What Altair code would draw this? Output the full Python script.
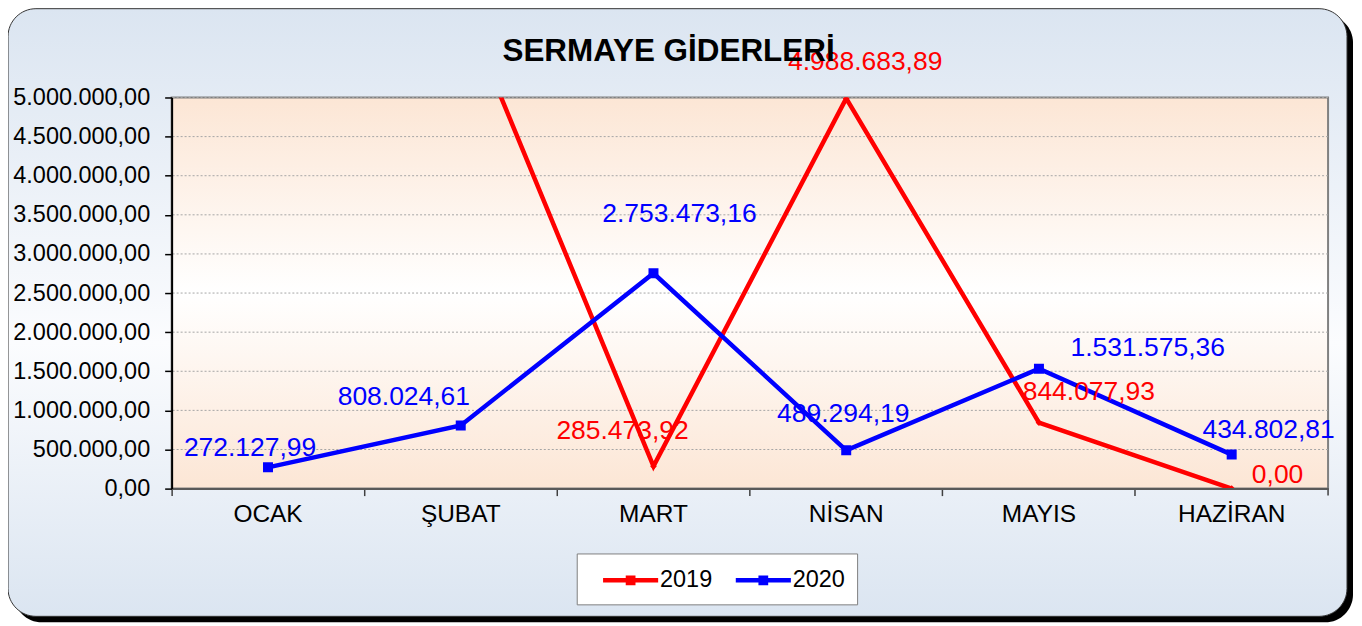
import altair as alt
import pandas as pd

# ---- data ----
months = ["OCAK", "ŞUBAT", "MART", "NİSAN", "MAYIS", "HAZİRAN"]
years = ["2019", "2020"]
values_2019 = [6000000.00, 6250000.00, 285473.92, 4988683.89, 844077.93, 0.00]
values_2020 = [272127.99, 808024.61, 2753473.16, 489294.19, 1531575.36, 434802.81]
y_ticks = [0, 500000, 1000000, 1500000, 2000000, 2500000, 3000000, 3500000, 4000000, 4500000, 5000000]
title_text = "SERMAYE GİDERLERİ"

rows = []
for m, a, b in zip(months, values_2019, values_2020):
    rows.append({"ay": m, "yil": "2019", "deger": a})
    rows.append({"ay": m, "yil": "2020", "deger": b})
df = pd.DataFrame(rows)
tick_df = pd.DataFrame({"deger": y_ticks})
one = pd.DataFrame({"k": [0]})

# ---- style ----
W, H = 1159, 392
FONT = "Liberation Sans"
RED, BLUE = "#ff0000", "#0000ff"
series_color = {"2019": RED, "2020": BLUE}
label_offsets = {
    ("2020", "OCAK"): (-18, -19),
    ("2020", "ŞUBAT"): (-57, -28),
    ("2020", "MART"): (26, -59),
    ("2020", "NİSAN"): (-3, -36),
    ("2020", "MAYIS"): (109, -21),
    ("2020", "HAZİRAN"): (37, -25),
    ("2019", "MART"): (-31, -35),
    ("2019", "NİSAN"): (19, -36),
    ("2019", "MAYIS"): (50, -31),
    ("2019", "HAZİRAN"): (46, -14),
}

x_enc = alt.X(
    "ay:N", sort=months, bandPosition=0.5,
    scale=alt.Scale(type="band", paddingInner=0, paddingOuter=0),
    axis=alt.Axis(title=None, bandPosition=0, labelAngle=0, labelFont=FONT, labelFontSize=24.5,
                  labelColor="black", tickColor="#404040", tickSize=7, tickWidth=1.5,
                  domainColor="#595959", domainWidth=2, labelPadding=7, grid=False, zindex=1),
)
y_enc = alt.Y(
    "deger:Q",
    scale=alt.Scale(domain=[0, 5000000], nice=False, zero=True),
    axis=alt.Axis(title=None, values=y_ticks, format=",.2f", labelFont=FONT, labelFontSize=23.5,
                  labelColor="black", tickColor="black", tickSize=7, tickWidth=1.5,
                  domainColor="black", domainWidth=2, labelPadding=15, grid=False, zindex=1),
)

shadow = alt.Chart(one).mark_rect(fill="black", cornerRadius=28).encode(
    x=alt.value(-158), x2=alt.value(1184), y=alt.value(-83), y2=alt.value(526))
box = alt.Chart(one).mark_rect(
    cornerRadius=28, stroke="#333333", strokeWidth=1,
    fill=alt.Gradient(gradient="linear", x1=0, x2=0, y1=0, y2=1,
                      stops=[alt.GradientStop(offset=0, color="#dbe5f1"),
                             alt.GradientStop(offset=0.55, color="#fbfcfe"),
                             alt.GradientStop(offset=1, color="#dbe5f1")]),
).encode(x=alt.value(-164), x2=alt.value(1178), y=alt.value(-89), y2=alt.value(520))
plot_bg = alt.Chart(one).mark_rect(
    stroke="#808080", strokeWidth=2,
    fill=alt.Gradient(gradient="linear", x1=0, x2=0, y1=0, y2=1,
                      stops=[alt.GradientStop(offset=0, color="#fce6d5"),
                             alt.GradientStop(offset=0.5, color="#ffffff"),
                             alt.GradientStop(offset=1, color="#fce6d5")]),
).encode(x=alt.value(0), x2=alt.value(W), y=alt.value(0), y2=alt.value(H))

grid = alt.Chart(tick_df).mark_rule(color="#a6a6a6", strokeWidth=1, strokeDash=[2, 2]).encode(
    y=y_enc)

legend_path = "M-2.3,0L2.3,0M-0.22,-0.22L0.22,-0.22L0.22,0.22L-0.22,0.22Z"
lines = alt.Chart(df).mark_line(strokeWidth=4.5, clip=True).encode(
    x=x_enc, y=y_enc,
    color=alt.Color("yil:N", scale=alt.Scale(domain=years, range=[RED, BLUE]),
                    legend=alt.Legend(title=None, orient="none", legendX=406, legendY=457,
                                      direction="horizontal", fillColor="white",
                                      strokeColor="#808080", padding=12,
                                      symbolType=legend_path, symbolSize=576,
                                      symbolOffset=27.5,
                                      symbolStrokeWidth=4.5, labelFont=FONT, labelFontSize=23.5,
                                      labelColor="black", labelOffset=15, columnPadding=9)),
)

pts_2019 = alt.Chart(df).transform_filter(alt.datum.yil == "2019").mark_point(
    shape="diamond", filled=True, size=45, color=RED, opacity=1, clip=True).encode(x=x_enc, y=y_enc)
pts_2020 = alt.Chart(df).transform_filter(alt.datum.yil == "2020").mark_point(
    shape="square", filled=True, size=100, color=BLUE, opacity=1, clip=True).encode(x=x_enc, y=y_enc)

label_layers = []
for (yil, ay), (dx, dy) in label_offsets.items():
    label_layers.append(
        alt.Chart(df)
        .transform_filter((alt.datum.yil == yil) & (alt.datum.ay == ay))
        .mark_text(dx=dx, dy=dy, color=series_color[yil], font=FONT, fontSize=26.5,
                   align="center", baseline="middle")
        .encode(x=x_enc, y=y_enc, text=alt.Text("deger:Q", format=",.2f"))
    )

title = alt.Chart(one).mark_text(text=title_text, font=FONT, fontSize=31.5, fontWeight="bold",
                                 color="black", align="center", baseline="alphabetic").encode(
    x=alt.value(498), y=alt.value(-37))

end_tick = alt.Chart(one).mark_rule(color="#404040", strokeWidth=1.5).encode(
    x=alt.value(W), y=alt.value(H), y2=alt.value(H + 7))

chart = alt.layer(
    shadow, box, plot_bg, grid, lines, pts_2019, pts_2020, *label_layers, title, end_tick
).properties(
    width=W, height=H,
    padding={"left": 164, "top": 89, "right": 26, "bottom": 134},
    autosize=alt.AutoSizeParams(type="none"),
).configure_view(stroke=None).configure(
    locale=alt.Locale(number=alt.NumberLocale(decimal=",", thousands=".", grouping=[3],
                                              currency=["", ""]))
).configure_legend(labelLimit=0)

chart.save("out.html", embed_options={"renderer": "svg", "actions": False})
